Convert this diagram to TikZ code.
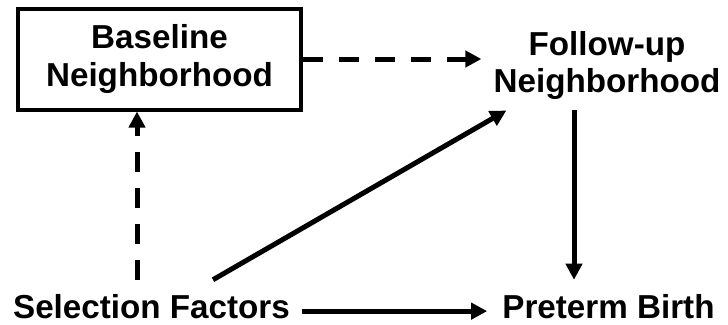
\documentclass[tikz,border=0pt]{standalone}
\usepackage{fontspec}
\setmainfont{Liberation Sans}
\usetikzlibrary{arrows.meta,calc}
\begin{document}
\begin{tikzpicture}[x=1pt,y=-1pt,
  lbl/.style={font=\fontsize{33.2}{37.5}\selectfont\bfseries, inner sep=0pt, align=center},
  boxnode/.style={lbl, draw, line width=4pt, minimum width=283pt, minimum height=101pt},
  arr/.style={line width=5pt, -{Triangle[length=16pt,width=16pt]}},
  dasharr/.style={arr, dash pattern=on 20pt off 16pt}]
\useasboundingbox (0,0) rectangle (728,324);
\node[boxnode] (base) at (159.5,59) {Baseline\\Neighborhood};
\node[lbl] (fol) at (607,65.5) {Follow-up\\Neighborhood};
\node[lbl, anchor=base] (sel) at (151.5,318) {Selection Factors};
\node[lbl, anchor=base] (pre) at (608.5,318) {Preterm Birth};
\draw[dasharr, shorten >=12pt] (base.east) -- (base.east -| fol.west);
\draw[dasharr] ($(sel.north)+(-14.5,-14)$) -- ($(sel.north |- base.south)+(-14.5,0)$);
\draw[arr] ($(sel.north)+(61.5,-14)$) -- ($(fol.south west)+(13,10.5)$);
\draw[arr] ($(fol.south)+(-33,10.5)$) -- ($(fol.south |- pre.north)+(-33,-14)$);
\draw[arr, shorten <=12pt, shorten >=15pt] ($(sel.east)+(0,5)$) -- ($(sel.east -| pre.west)+(0,5)$);
\end{tikzpicture}
\end{document}
